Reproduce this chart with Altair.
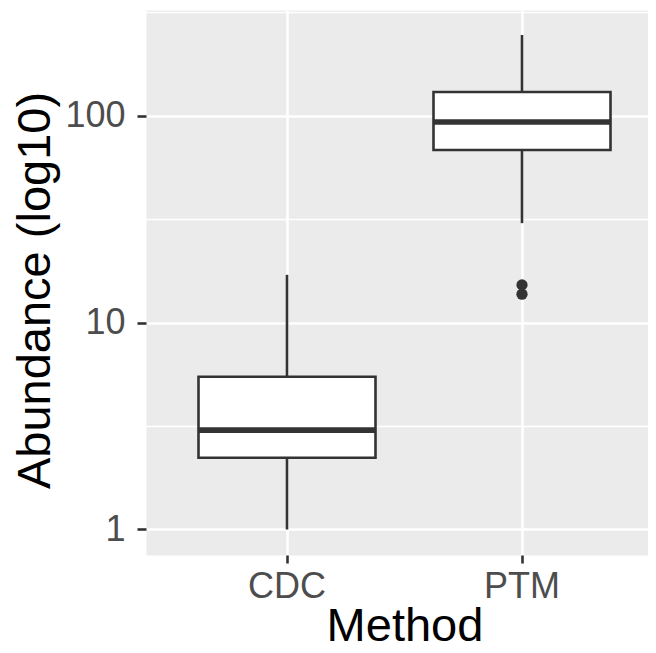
import altair as alt
import pandas as pd

# Box statistics
methods = ["CDC", "PTM"]
lower_whisker = [1.0, 30.2]
q1 = [2.22, 68.1]
median = [3.02, 93.0]
q3 = [5.47, 130.0]
upper_whisker = [17.0, 245.0]

outlier_methods = ["PTM", "PTM"]
outlier_values = [13.7, 15.2]

major_ticks = [1, 10, 100]
minor_ticks = [3.162, 31.62, 316.2]

box_df = pd.DataFrame({
    "Method": methods,
    "lower": lower_whisker,
    "q1": q1,
    "median": median,
    "q3": q3,
    "upper": upper_whisker,
})
out_df = pd.DataFrame({"Method": outlier_methods, "value": outlier_values})

FONT = "Liberation Sans"
DARK = "#333333"
LW = 2.6

x_scale = alt.Scale(type="band", range=[0, 517], paddingInner=0, paddingOuter=0.1)
y_scale = alt.Scale(type="log", domain=[0.753, 323.5], nice=False)

x_axis = alt.Axis(
    title="Method", grid=True, gridColor="white", gridWidth=LW, domain=False,
    tickColor=DARK, tickWidth=LW, tickSize=8, labelPadding=34,
    labelBaseline="alphabetic", labelFont=FONT, labelFontSize=36,
    labelColor="#4D4D4D", labelAngle=0, titleFont=FONT, titleFontSize=47,
    titleFontWeight="normal", titleColor="black", titleY=85,
    titleX=258.5, titleBaseline="alphabetic",
)
y_axis = alt.Axis(
    title="Abundance (log10)", values=major_ticks, format=".0f", grid=True,
    gridColor="white", gridWidth=LW, domain=False, tickColor=DARK,
    tickWidth=LW, tickSize=9, labelPadding=12, labelFont=FONT,
    labelFontSize=36, labelColor="#4D4D4D", labelBaseline="middle",
    titleFont=FONT, titleFontSize=47, titleFontWeight="normal",
    titleColor="black", titleX=-97, titleY=280, titleAngle=270,
    titleBaseline="alphabetic", titleAlign="center",
)
minor_axis = alt.Axis(
    title=None, values=minor_ticks, orient="right", grid=True,
    gridColor="white", gridWidth=LW / 2, domain=False, ticks=False, labels=False,
)

X = alt.X("Method:N", scale=x_scale, axis=x_axis)

base = alt.Chart(box_df)

whisk_lo = base.mark_rule(color=DARK, strokeWidth=LW).encode(
    x=X,
    y=alt.Y("lower:Q", scale=y_scale, axis=minor_axis),
    y2="q1:Q",
)
whisk_hi = base.mark_rule(color=DARK, strokeWidth=LW).encode(
    x=X,
    y=alt.Y("q3:Q", scale=y_scale, axis=None),
    y2="upper:Q",
)
box = base.mark_bar(size=177, fill="white", stroke=DARK, strokeWidth=LW).encode(
    x=X,
    y=alt.Y("q1:Q", scale=y_scale, axis=y_axis),
    y2="q3:Q",
)
med = base.mark_tick(size=177, thickness=5.6, color=DARK, opacity=1,
                     orient="horizontal").encode(
    x=X,
    y=alt.Y("median:Q", scale=y_scale, axis=None),
)
outl = alt.Chart(out_df).mark_circle(size=127, color=DARK, opacity=1).encode(
    x=X,
    y=alt.Y("value:Q", scale=y_scale, axis=None),
)

chart = (
    alt.layer(whisk_lo, whisk_hi, box, med, outl)
    .resolve_axis(y="independent")
    .properties(
        width=502, height=545,
        autosize=alt.AutoSizeParams(type="none"),
        padding={"left": 138, "top": 2, "right": 0, "bottom": 90},
        background="white",
    )
    .configure_view(fill="#EBEBEB", stroke="transparent")
)

chart.save("out.html", embed_options={"renderer": "svg", "actions": False})
